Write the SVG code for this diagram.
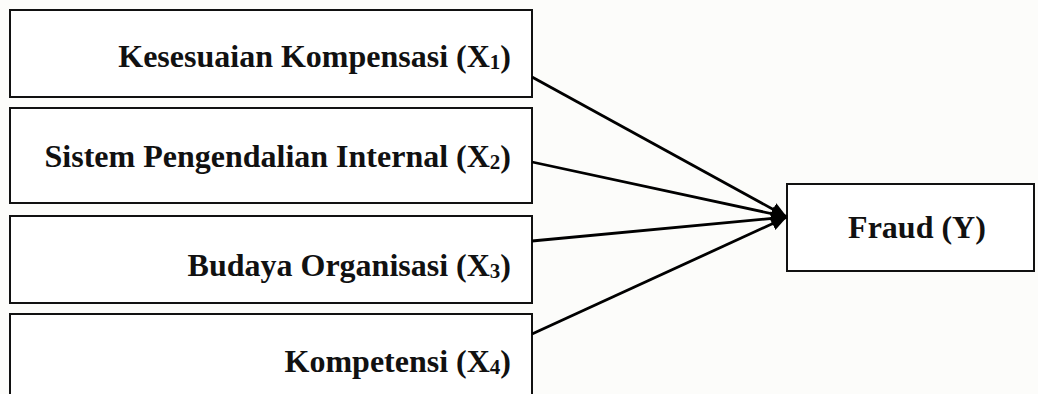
<svg xmlns="http://www.w3.org/2000/svg" width="1038" height="394" viewBox="0 0 1038 394">
  <style>
    .box { fill: #ffffff; stroke: #111111; stroke-width: 2; }
    .lbl { font-family: "Liberation Serif", "Times New Roman", serif; font-weight: bold; font-size: 32px; fill: #111111; }
    .sub { font-size: 21px; }
    .conn { stroke: #000000; stroke-width: 2.8; fill: none; marker-end: url(#arrow); }
  </style>
  <defs>
    <marker id="arrow" markerUnits="userSpaceOnUse" markerWidth="18" markerHeight="16" refX="16" refY="8" orient="auto">
      <path d="M0,1 L16,8 L0,15 Z" fill="#000000"/>
    </marker>
  </defs>
  <rect x="0" y="0" width="1038" height="394" fill="#fcfcfa"/>

  <g id="node-x1">
    <rect class="box" x="10" y="10" width="522" height="87"/>
    <text class="lbl" x="511" y="67" text-anchor="end">Kesesuaian Kompensasi (X<tspan class="sub" dy="2">1</tspan><tspan dy="-2">)</tspan></text>
  </g>
  <g id="node-x2">
    <rect class="box" x="10" y="108" width="522" height="95"/>
    <text class="lbl" x="511" y="167" text-anchor="end">Sistem Pengendalian Internal (X<tspan class="sub" dy="2">2</tspan><tspan dy="-2">)</tspan></text>
  </g>
  <g id="node-x3">
    <rect class="box" x="10" y="216" width="522" height="87"/>
    <text class="lbl" x="511" y="276" text-anchor="end">Budaya Organisasi (X<tspan class="sub" dy="2">3</tspan><tspan dy="-2">)</tspan></text>
  </g>
  <g id="node-x4">
    <rect class="box" x="10" y="314" width="522" height="100"/>
    <text class="lbl" x="511" y="372" text-anchor="end">Kompetensi (X<tspan class="sub" dy="2">4</tspan><tspan dy="-2">)</tspan></text>
  </g>
  <g id="node-y">
    <rect class="box" x="787" y="184" width="247" height="87"/>
    <text class="lbl" x="917" y="238" text-anchor="middle">Fraud (Y)</text>
  </g>

  <g id="connectors">
    <line class="conn" x1="532" y1="77" x2="787" y2="217"/>
    <line class="conn" x1="532" y1="162" x2="787" y2="217"/>
    <line class="conn" x1="532" y1="241" x2="787" y2="217"/>
    <line class="conn" x1="532" y1="334" x2="787" y2="217"/>
  </g>
</svg>
